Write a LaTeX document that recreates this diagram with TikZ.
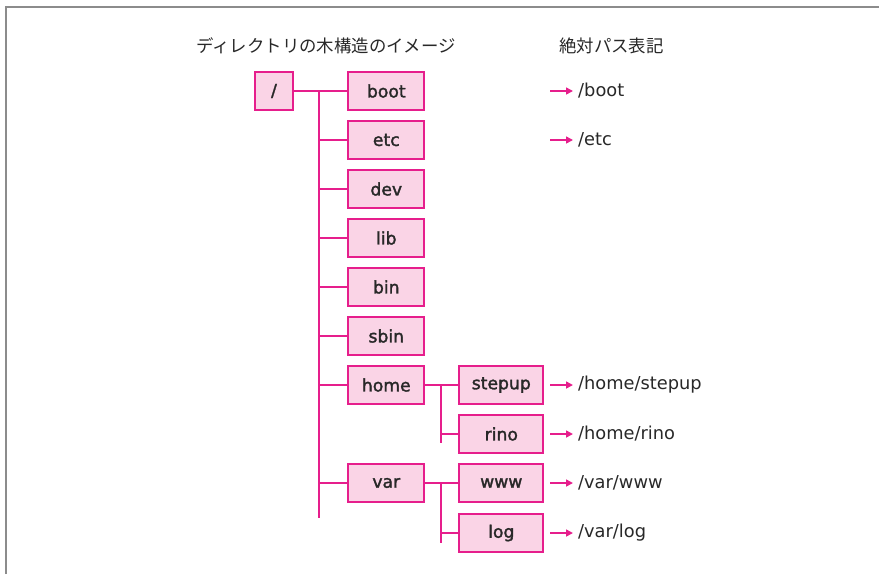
\documentclass[tikz,border=0pt]{standalone}
\usepackage{fontspec}
\setmainfont{Noto Sans CJK JP}
\newfontfamily\labelfont[FakeBold=1.8]{DejaVu Sans}
\newfontfamily\pathfont{DejaVu Sans}
\usetikzlibrary{arrows.meta}
\definecolor{mag}{RGB}{230,30,140}
\definecolor{pinkfill}{RGB}{250,212,230}
\definecolor{textgray}{RGB}{40,40,40}
\definecolor{framegray}{RGB}{140,140,140}
\tikzset{
  dirbox/.style={draw=mag, fill=pinkfill, line width=2pt, minimum width=76pt,
    minimum height=38pt, inner sep=0pt, text=textgray,
    font=\labelfont\fontsize{17.2}{17.2}\selectfont},
  subbox/.style={dirbox, minimum width=84pt},
  rootbox/.style={dirbox, minimum width=38pt},
  link/.style={draw=mag, line width=2pt},
  patharrow/.style={draw=mag, line width=1.6pt, -{Triangle[length=7pt,width=7pt]}, shorten >=5pt},
  pathtext/.style={anchor=west, inner sep=0pt, text=textgray,
    font=\pathfont\fontsize{17.8}{17.8}\selectfont},
  titletext/.style={inner sep=0pt, text=textgray, font=\fontsize{17.4}{17.4}\selectfont}
}
\begin{document}
\begin{tikzpicture}[x=1pt,y=-1pt]
\useasboundingbox (0,0) rectangle (879,574);
\draw[framegray, line width=1.5pt] (6,574) -- (6,7) -- (879,7);

% titles
\node[titletext] (title1) at (326,45.7) {ディレクトリの木構造のイメージ};
\node[titletext, anchor=west] (title2) at (559,45.7) {絶対パス表記};

% boxes
\node[rootbox] (root) at (274,91) {/};
\node[dirbox] (boot) at (386.3,91) {boot};
\node[dirbox] (etc) at (386.3,140) {etc};
\node[dirbox] (dev) at (386.3,189) {dev};
\node[dirbox] (lib) at (386.3,238) {lib};
\node[dirbox] (bin) at (386.3,287) {bin};
\node[dirbox] (sbin) at (386.3,336) {sbin};
\node[dirbox] (home) at (386.3,385) {home};
\node[dirbox] (var) at (386.3,483) {var};
\node[subbox] (stepup) at (501.3,385) {stepup};
\node[subbox] (rino) at (501.3,434) {rino};
\node[subbox] (www) at (501.3,483) {www};
\node[subbox] (log) at (501.3,533) {log};

% main trunk
\coordinate (t0) at (319,91);
\coordinate (tend) at (319,518);
\draw[link] (root.east) -- (boot.west);
\draw[link] (t0) -- (tend);
\foreach \n in {etc,dev,lib,bin,sbin,home,var}
  \draw[link] (\n.west) -- (\n.west -| t0);

% home sub-trunk
\coordinate (h0) at (441,385);
\coordinate (hend) at (441,443);
\draw[link] (home.east) -- (stepup.west);
\draw[link] (h0) -- (hend);
\draw[link] (rino.west) -- (rino.west -| h0);

% var sub-trunk
\coordinate (v0) at (441,483);
\coordinate (vend) at (441,543);
\draw[link] (var.east) -- (www.west);
\draw[link] (v0) -- (vend);
\draw[link] (log.west) -- (log.west -| v0);

% absolute paths
\node[pathtext] (pboot) at (578,91) {/boot};
\node[pathtext] (petc) at (578,140) {/etc};
\node[pathtext] (pstepup) at (578,385) {/home/stepup};
\node[pathtext] (prino) at (578,434) {/home/rino};
\node[pathtext] (pwww) at (578,483) {/var/www};
\node[pathtext] (plog) at (578,533) {/var/log};
\foreach \p/\y in {pboot/91,petc/140,pstepup/385,prino/434,pwww/483,plog/533}{
  \coordinate (a\p) at (550,\y);
  \draw[patharrow] (a\p) -- (\p.west);
}
\end{tikzpicture}
\end{document}
